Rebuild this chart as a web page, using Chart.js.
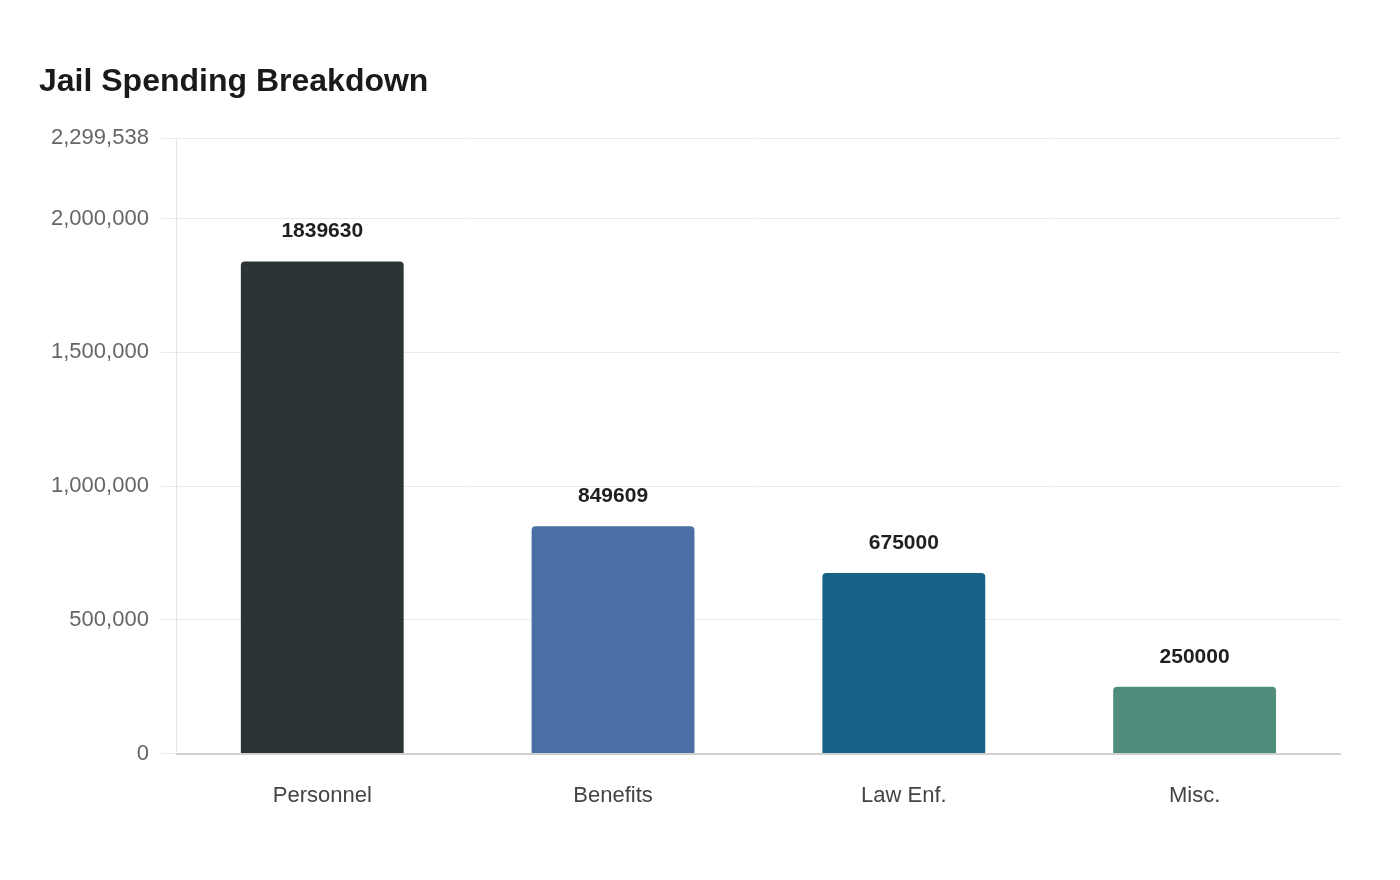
<!DOCTYPE html>
<html>
<head>
<meta charset="utf-8">
<script src="https://cdn.jsdelivr.net/npm/chart.js@4"></script>
<style>
  html, body { margin: 0; padding: 0; background: #fff; }
  .chart-box { width: 1400px; height: 880px; position: relative; }
</style>
</head>
<body>
<div class="chart-box"><canvas id="myChart"></canvas></div>
<script>
// ---------- data ----------
const categories = ['Personnel', 'Benefits', 'Law Enf.', 'Misc.'];
const spending = [1839630, 849609, 675000, 250000];
const barColors = ['#2d3436', '#4a6fa5', '#176086', '#4f8c7b'];

const yMax = Math.max(...spending) * 1.25;
const yTicks = [0, 500000, 1000000, 1500000, 2000000, yMax];

const fontFamily = 'Arial, "Liberation Sans", sans-serif';

// draws the value above each bar (no datalabels plugin available offline)
const valueLabels = {
  id: 'valueLabels',
  afterDatasetsDraw(chart) {
    const ctx = chart.ctx;
    const meta = chart.getDatasetMeta(0);
    ctx.save();
    ctx.font = 'bold 21px ' + fontFamily;
    ctx.fillStyle = '#1f1f1f';
    ctx.textAlign = 'center';
    ctx.textBaseline = 'middle';
    meta.data.forEach((bar, i) => {
      ctx.fillText(String(spending[i]), bar.x, bar.y - 30);
    });
    ctx.restore();
  }
};

const ctx = document.getElementById('myChart');
const chart = new Chart(ctx, {
  type: 'bar',
  data: {
    labels: categories,
    datasets: [{
      data: spending,
      backgroundColor: barColors,
      borderWidth: 0,
      borderRadius: { topLeft: 4, topRight: 4 },
      borderSkipped: 'bottom',
      barPercentage: 0.7,
      categoryPercentage: 0.8
    }]
  },
  options: {
    responsive: true,
    maintainAspectRatio: false,
    animation: false,
    layout: { padding: { left: 39, right: 60, top: 40, bottom: 50 } },
    plugins: {
      legend: { display: false },
      tooltip: { enabled: false },
      title: {
        display: true,
        text: 'Jail Spending Breakdown',
        align: 'start',
        color: '#1a1a1a',
        font: { family: fontFamily, size: 32, weight: 'bold' },
        padding: { top: 23, bottom: 37 }
      }
    },
    scales: {
      y: {
        min: 0,
        max: yMax,
        afterBuildTicks: axis => {
          axis.ticks = yTicks.map(v => ({ value: v }));
        },
        ticks: {
          padding: 12,
          color: '#666',
          font: { family: fontFamily, size: 22 },
          callback: v => Math.round(v).toLocaleString('en-US')
        },
        grid: { color: '#ebebeb', tickLength: 16 },
        border: { color: '#e6e6e6' }
      },
      x: {
        ticks: {
          padding: 21,
          color: '#444',
          font: { family: fontFamily, size: 22 }
        },
        grid: { display: false },
        border: { color: '#d0d0d0', width: 2 }
      }
    }
  },
  plugins: [valueLabels]
});
</script>
</body>
</html>
